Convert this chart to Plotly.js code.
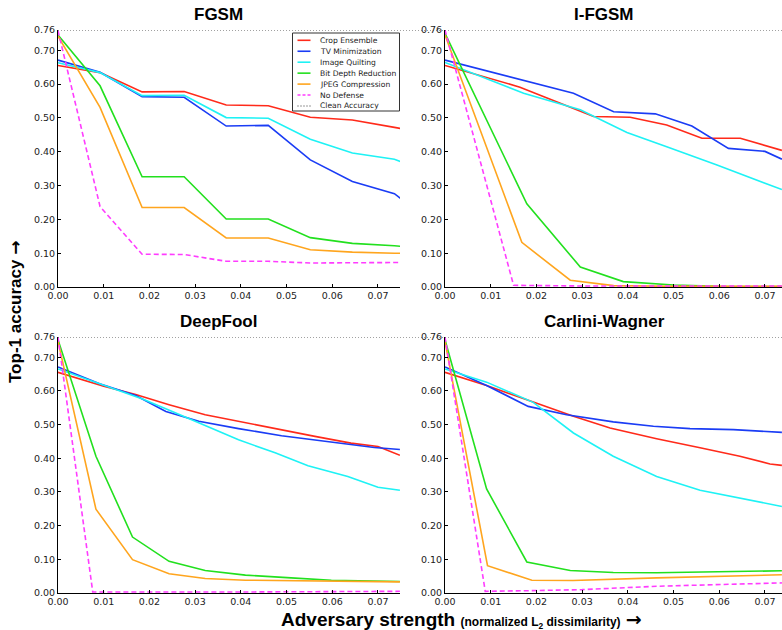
<!DOCTYPE html>
<html>
<head>
<meta charset="utf-8">
<script src="https://cdn.plot.ly/plotly-3.0.1.min.js"></script>
<style>html,body{margin:0;padding:0;background:#fff;}#chart{width:782px;height:630px;}</style>
</head>
<body>
<div id="chart"></div>
<script>
// ---------- data ----------
const seriesNames = ["Crop Ensemble", "TV Minimization", "Image Quilting", "Bit Depth Reduction", "JPEG Compression", "No Defense", "Clean Accuracy"];
const panelTitles = ["FGSM", "I-FGSM", "DeepFool", "Carlini-Wagner"];
const cleanAccuracy = 0.76;
const xTicks = [0, 0.01, 0.02, 0.03, 0.04, 0.05, 0.06, 0.07];
const xTickLabels = ["0.00", "0.01", "0.02", "0.03", "0.04", "0.05", "0.06", "0.07"];
const yTicks = [0, 0.1, 0.2, 0.3, 0.4, 0.5, 0.6, 0.7, 0.76];
const yTickLabels = ["0.00", "0.10", "0.20", "0.30", "0.40", "0.50", "0.60", "0.70", "0.76"];

// FGSM
const fgsmX = [0, 0.0092, 0.0184, 0.0276, 0.0368, 0.046, 0.0552, 0.0644, 0.0736, 0.0828];
const fgsmCrop = [0.655, 0.634, 0.577, 0.578, 0.538, 0.536, 0.502, 0.494, 0.472, 0.451];
const fgsmTV = [0.671, 0.635, 0.563, 0.561, 0.476, 0.478, 0.376, 0.312, 0.276, 0.18];
const fgsmQuilt = [0.663, 0.634, 0.566, 0.567, 0.501, 0.499, 0.437, 0.396, 0.378, 0.33];
const fgsmBit = [0.745, 0.595, 0.326, 0.326, 0.201, 0.201, 0.146, 0.129, 0.122, 0.112];
const fgsmJpeg = [0.742, 0.531, 0.235, 0.235, 0.145, 0.145, 0.110, 0.103, 0.100, 0.098];
const fgsmNone = [0.758, 0.238, 0.097, 0.096, 0.076, 0.076, 0.071, 0.071, 0.073, 0.073];

// I-FGSM
const ifgsmCropX = [0, 0.0164, 0.0266, 0.0325, 0.0405, 0.0456, 0.0485, 0.0562, 0.0646, 0.0737];
const ifgsmCrop = [0.655, 0.591, 0.536, 0.504, 0.502, 0.488, 0.479, 0.440, 0.440, 0.404];
const ifgsmTVX = [0, 0.0281, 0.0369, 0.046, 0.054, 0.062, 0.070, 0.0737];
const ifgsmTV = [0.671, 0.573, 0.518, 0.512, 0.476, 0.410, 0.401, 0.378];
const ifgsmQuiltX = [0, 0.0172, 0.0296, 0.0398, 0.0485, 0.0595, 0.0737];
const ifgsmQuilt = [0.664, 0.573, 0.524, 0.457, 0.415, 0.361, 0.288];
const ifgsmBitX = [0, 0.0179, 0.0296, 0.039, 0.050, 0.060, 0.0737];
const ifgsmBit = [0.750, 0.246, 0.059, 0.016, 0.006, 0.002, 0.001];
const ifgsmJpegX = [0, 0.0168, 0.0274, 0.0369, 0.050, 0.0737];
const ifgsmJpeg = [0.745, 0.132, 0.020, 0.004, 0.002, 0.002];
const ifgsmNoneX = [0, 0.015, 0.030, 0.0737];
const ifgsmNone = [0.760, 0.005, 0.003, 0.003];

// DeepFool
const dfCropX = [0, 0.010, 0.017, 0.0243, 0.0322, 0.0402, 0.0475, 0.0562, 0.0641, 0.070, 0.0748];
const dfCrop = [0.655, 0.614, 0.589, 0.559, 0.529, 0.507, 0.488, 0.465, 0.445, 0.435, 0.409];
const dfTVX = [0, 0.0091, 0.017, 0.0236, 0.0308, 0.0395, 0.0489, 0.0598, 0.0692, 0.0748];
const dfTV = [0.671, 0.621, 0.586, 0.539, 0.510, 0.488, 0.467, 0.448, 0.432, 0.426];
const dfQuiltX = [0, 0.0091, 0.0185, 0.025, 0.0308, 0.0395, 0.0475, 0.0547, 0.0634, 0.070, 0.0748];
const dfQuilt = [0.665, 0.621, 0.576, 0.539, 0.505, 0.455, 0.416, 0.378, 0.346, 0.314, 0.305];
const dfBitX = [0, 0.0083, 0.0163, 0.0243, 0.0322, 0.041, 0.051, 0.0598, 0.0748];
const dfBit = [0.752, 0.406, 0.166, 0.094, 0.067, 0.053, 0.045, 0.038, 0.034];
const dfJpegX = [0, 0.0083, 0.0163, 0.0243, 0.0322, 0.041, 0.0748];
const dfJpeg = [0.747, 0.249, 0.099, 0.057, 0.043, 0.038, 0.033];
const dfNoneX = [0, 0.0076, 0.040, 0.0748];
const dfNone = [0.760, 0.003, 0.003, 0.005];

// Carlini-Wagner
const cwCropX = [0, 0.0091, 0.0193, 0.0281, 0.0361, 0.0463, 0.0558, 0.0645, 0.0711, 0.0737];
const cwCrop = [0.655, 0.616, 0.567, 0.525, 0.490, 0.458, 0.431, 0.406, 0.383, 0.379];
const cwTVX = [0, 0.0091, 0.0182, 0.0266, 0.0368, 0.0456, 0.0536, 0.0631, 0.0737];
const cwTV = [0.671, 0.616, 0.554, 0.529, 0.508, 0.495, 0.488, 0.485, 0.477];
const cwQuiltX = [0, 0.0091, 0.0193, 0.0281, 0.0368, 0.0463, 0.0558, 0.0645, 0.0737];
const cwQuilt = [0.665, 0.626, 0.566, 0.475, 0.406, 0.346, 0.305, 0.282, 0.257];
const cwBitX = [0, 0.0091, 0.0179, 0.0274, 0.0368, 0.0463, 0.0737];
const cwBit = [0.752, 0.309, 0.092, 0.067, 0.061, 0.060, 0.066];
const cwJpegX = [0, 0.0093, 0.019, 0.028, 0.0463, 0.0737];
const cwJpeg = [0.747, 0.081, 0.038, 0.037, 0.045, 0.054];
const cwNoneX = [0, 0.0088, 0.019, 0.030, 0.0463, 0.0737];
const cwNone = [0.760, 0.005, 0.007, 0.010, 0.020, 0.030];

// ---------- styling ----------
const colors = ["#ff2a1a", "#1a3cf5", "#1ef2f5", "#22e01e", "#ffa51e", "#ff3cff", "#333333"];
const dashes = ["solid", "solid", "solid", "solid", "solid", "5px,3px", "1px,2px"];
const W = 782, H = 630;
const px = v => v / W, py = v => 1 - v / H;

const panels = [
  {xa: "x", ya: "y", series: [[fgsmX, fgsmCrop], [fgsmX, fgsmTV], [fgsmX, fgsmQuilt], [fgsmX, fgsmBit], [fgsmX, fgsmJpeg], [fgsmX, fgsmNone]]},
  {xa: "x2", ya: "y2", series: [[ifgsmCropX, ifgsmCrop], [ifgsmTVX, ifgsmTV], [ifgsmQuiltX, ifgsmQuilt], [ifgsmBitX, ifgsmBit], [ifgsmJpegX, ifgsmJpeg], [ifgsmNoneX, ifgsmNone]]},
  {xa: "x3", ya: "y3", series: [[dfCropX, dfCrop], [dfTVX, dfTV], [dfQuiltX, dfQuilt], [dfBitX, dfBit], [dfJpegX, dfJpeg], [dfNoneX, dfNone]]},
  {xa: "x4", ya: "y4", series: [[cwCropX, cwCrop], [cwTVX, cwTV], [cwQuiltX, cwQuilt], [cwBitX, cwBit], [cwJpegX, cwJpeg], [cwNoneX, cwNone]]}
];

const traces = [];
panels.forEach((p, pi) => {
  p.series.forEach((s, si) => {
    traces.push({
      type: "scatter", mode: "lines", x: s[0], y: s[1],
      xaxis: p.xa, yaxis: p.ya, name: seriesNames[si], showlegend: false,
      line: {color: colors[si], width: 1.6, dash: dashes[si]},
      hoverinfo: "skip"
    });
  });
});

const tickFont = {family: "DejaVu Sans, sans-serif", size: 9.5, color: "#222"};
function xax(d0, d1, r1, anchor) {
  return {domain: [d0, d1], range: [0, r1], anchor: anchor, tickvals: xTicks, ticktext: xTickLabels,
    showgrid: false, zeroline: false, showline: true, linecolor: "#000", linewidth: 1,
    ticks: "inside", ticklen: 3, tickcolor: "#000", tickfont: tickFont, fixedrange: true};
}
function yax(d0, d1, anchor) {
  return {domain: [d0, d1], range: [0, 0.76], anchor: anchor, tickvals: yTicks, ticktext: yTickLabels,
    showgrid: false, zeroline: false, showline: true, linecolor: "#000", linewidth: 1,
    ticks: "inside", ticklen: 3, tickcolor: "#000", tickfont: tickFont, fixedrange: true};
}
const xL0 = px(58), xL1 = px(400), xR0 = px(445);
const yT0 = py(287), yT1 = py(30), yB0 = py(593), yB1 = py(337);

const titleFont = {family: "Liberation Sans, Arial, sans-serif", size: 17, color: "#000"};
const annotations = [
  {text: "<b>" + panelTitles[0] + "</b>", x: px(218), y: py(14)},
  {text: "<b>" + panelTitles[1] + "</b>", x: px(604), y: py(14)},
  {text: "<b>" + panelTitles[2] + "</b>", x: px(218), y: py(321)},
  {text: "<b>" + panelTitles[3] + "</b>", x: px(604), y: py(321)}
].map(a => Object.assign(a, {xref: "paper", yref: "paper", showarrow: false, xanchor: "center", yanchor: "middle", font: titleFont}));
const arrowSpan = "<span style='font-family:DejaVu Sans'><b>→</b></span>";
annotations.push({
  text: "<b>Top-1 accuracy</b> " + arrowSpan, xref: "paper", yref: "paper", x: px(15), y: py(312),
  textangle: -90, showarrow: false, xanchor: "center", yanchor: "middle",
  font: {family: "Liberation Sans, Arial, sans-serif", size: 17, color: "#000"}
});
annotations.push({
  text: "<b>Adversary strength</b> <b><span style='font-size:12px'>(normalized L<sub>2</sub> dissimilarity)</span></b> " + arrowSpan,
  xref: "paper", yref: "paper", x: px(462), y: py(619), showarrow: false, xanchor: "center", yanchor: "middle",
  font: {family: "Liberation Sans, Arial, sans-serif", size: 19, color: "#000"}
});

const shapes = [
  {type: "line", xref: "paper", yref: "y", x0: xL0, x1: 1, y0: cleanAccuracy, y1: cleanAccuracy, line: {color: "#444", width: 1, dash: "1px,2px"}},
  {type: "line", xref: "paper", yref: "y3", x0: xL0, x1: 1, y0: cleanAccuracy, y1: cleanAccuracy, line: {color: "#444", width: 1, dash: "1px,2px"}}
];

// custom legend (box + samples + labels)
const legBox = {x0: 292.5, x1: 399.5, y0: 33, y1: 111};
shapes.push({type: "rect", xref: "paper", yref: "paper", layer: "above",
  x0: px(legBox.x0), x1: px(legBox.x1), y0: py(legBox.y1), y1: py(legBox.y0),
  fillcolor: "#fff", line: {color: "#333", width: 1}});
seriesNames.forEach((name, i) => {
  const yy = 40.3 + i * 10.95;
  shapes.push({type: "line", xref: "paper", yref: "paper", layer: "above",
    x0: px(297.5), x1: px(310.5), y0: py(yy), y1: py(yy),
    line: {color: colors[i], width: i === 6 ? 1 : 1.6, dash: i === 5 ? "3px,2px" : dashes[i]}});
  annotations.push({text: name, xref: "paper", yref: "paper", x: px(317.5), y: py(yy),
    xanchor: "left", yanchor: "middle", showarrow: false,
    font: {family: "DejaVu Sans, sans-serif", size: 7.6, color: "#222"}});
});

const layout = {
  width: W, height: H, margin: {l: 0, r: 0, t: 0, b: 0},
  paper_bgcolor: "#fff", plot_bgcolor: "rgba(0,0,0,0)",
  xaxis: xax(xL0, xL1, 0.07482, "y"),
  yaxis: yax(yT0, yT1, "x"),
  xaxis2: xax(xR0, 1, 0.07372, "y2"),
  yaxis2: yax(yT0, yT1, "x2"),
  xaxis3: xax(xL0, xL1, 0.07482, "y3"),
  yaxis3: yax(yB0, yB1, "x3"),
  xaxis4: xax(xR0, 1, 0.07372, "y4"),
  yaxis4: yax(yB0, yB1, "x4"),
  showlegend: false,
  annotations: annotations, shapes: shapes
};

Plotly.newPlot("chart", traces, layout, {displayModeBar: false, staticPlot: true});
</script>
</body>
</html>
